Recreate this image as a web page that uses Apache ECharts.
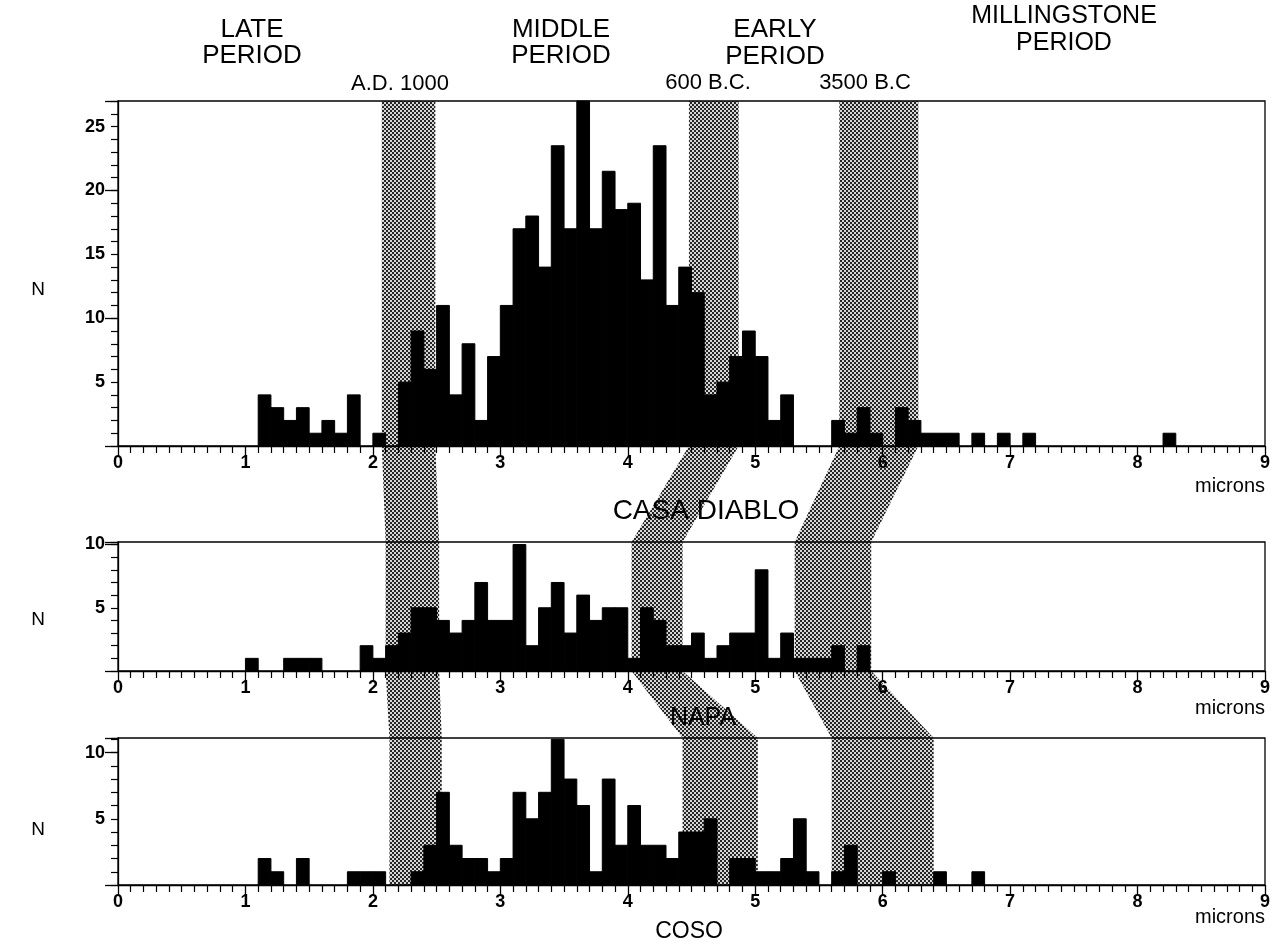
<!DOCTYPE html>
<html>
<head>
<meta charset="utf-8">
<script src="https://cdn.jsdelivr.net/npm/echarts@6/dist/echarts.min.js"></script>
<style>
html,body{margin:0;padding:0;background:#fff;}
#c{width:1286px;height:945px;}
</style>
</head>
<body>
<div id="c"></div>
<script>
// ---------- DATA ----------
const BIN = 0.1; // bin width, microns
const xTicks = [0, 1, 2, 3, 4, 5, 6, 7, 8, 9];

// CASA DIABLO (top panel): bin start (microns) and count N
const casaBins   = [1.1,1.2,1.3,1.4,1.5,1.6,1.7,1.8,2.0,
                    2.2,2.3,2.4,2.5,2.6,2.7,2.8,2.9,3.0,3.1,3.2,3.3,3.4,3.5,3.6,3.7,3.8,3.9,4.0,
                    4.1,4.2,4.3,4.4,4.5,4.6,4.7,4.8,4.9,5.0,5.1,5.2,
                    5.6,5.7,5.8,5.9,6.1,6.2,6.3,6.4,6.5,6.7,6.9,7.1,8.2];
const casaCounts = [4,3,2,3,1,2,1,4,1,
                    5,9,6,11,4,8,2,7,11,17,18,14,23.5,17,27,17,21.5,18.5,19,
                    13,23.5,11,14,12,4,5,7,9,7,2,4,
                    2,1,3,1,3,2,1,1,1,1,1,1,1];

// NAPA (middle panel)
const napaBins   = [1.0,1.3,1.4,1.5,
                    1.9,2.0,2.1,2.2,2.3,2.4,2.5,2.6,2.7,2.8,2.9,3.0,3.1,3.2,3.3,3.4,3.5,3.6,3.7,
                    3.8,3.9,4.0,4.1,4.2,4.3,4.4,4.5,4.6,4.7,4.8,4.9,5.0,5.1,5.2,5.3,5.4,5.5,5.6,
                    5.8];
const napaCounts = [1,1,1,1,
                    2,1,2,3,5,5,4,3,4,7,4,4,10,2,5,7,3,6,4,
                    5,5,1,5,4,2,2,3,1,2,3,3,8,1,3,1,1,1,2,
                    2];

// COSO (bottom panel)
const cosoBins   = [1.1,1.2,1.4,1.8,1.9,2.0,
                    2.3,2.4,2.5,2.6,2.7,2.8,2.9,3.0,3.1,3.2,3.3,3.4,3.5,3.6,3.7,3.8,3.9,4.0,
                    4.1,4.2,4.3,4.4,4.5,4.6,
                    4.8,4.9,5.0,5.1,5.2,5.3,5.4,
                    5.6,5.7,6.0,6.4,6.7];
const cosoCounts = [2,1,2,1,1,1,
                    1,3,7,3,2,2,1,2,7,5,7,11,8,6,1,8,3,6,
                    3,3,2,4,4,5,
                    2,2,1,1,2,5,1,
                    1,3,1,1,1];

const yMaxes = [27, 10.2, 11.1];          // top of each panel's N axis
const siteNames = ['CASA DIABLO', 'NAPA', 'COSO'];
const periodNames = ['LATE\nPERIOD', 'MIDDLE\nPERIOD', 'EARLY\nPERIOD', 'MILLINGSTONE\nPERIOD'];
const dateNames = ['A.D. 1000', '600 B.C.', '3500 B.C'];

// Shaded date bands: [left, right] edges in microns for each panel (top, middle, bottom)
const bandAD1000 = [[2.07, 2.49], [2.10, 2.52], [2.13, 2.54]];
const band600BC  = [[4.48, 4.87], [4.03, 4.43], [4.43, 5.02]];
const band3500BC = [[5.66, 6.28], [5.31, 5.91], [5.60, 6.40]];

// ---------- CHART ----------
const FONT = '"Liberation Sans", Arial, Helvetica, sans-serif';
const chart = echarts.init(document.getElementById('c'), null, {renderer: 'canvas'});

const grids = [
  {left: 118, right: 21, top: 101, height: 345},
  {left: 118, right: 21, top: 542, height: 129},
  {left: 118, right: 21, top: 738, height: 147}
].map(g => Object.assign(g, {show: true, borderColor: '#000', borderWidth: 1.3, backgroundColor: 'transparent', z: 4}));

function xAxisFor(i) {
  return {
    gridIndex: i, type: 'value', min: xTicks[0], max: xTicks[xTicks.length - 1], interval: 1,
    axisLine: {show: true, onZero: false, lineStyle: {color: '#000', width: 1.3}},
    axisTick: {show: true, length: 10, lineStyle: {color: '#000', width: 1.3}},
    minorTick: {show: true, splitNumber: 10, length: 7, lineStyle: {color: '#000', width: 1.2}},
    axisLabel: {color: '#000', fontSize: 18, fontWeight: 'bold', fontFamily: FONT, margin: 8},
    splitLine: {show: false}, minorSplitLine: {show: false}, z: 5
  };
}
function yAxisFor(i) {
  return {
    gridIndex: i, type: 'value', min: 0, max: yMaxes[i], interval: 1,
    axisLine: {show: true, onZero: false, lineStyle: {color: '#000', width: 1.3}},
    axisTick: {show: true, length: 7, lineStyle: {color: '#000', width: 1.2}},
    axisLabel: {color: '#000', fontSize: 18, fontWeight: 'bold', fontFamily: FONT, margin: 13,
      formatter: v => (v > 0 && Math.abs(v % 5) < 1e-9) ? String(v) : ''},
    splitLine: {show: false}, z: 5
  };
}
function yLongTicksFor(i) {
  return {
    gridIndex: i, type: 'value', min: 0, max: yMaxes[i], interval: 10, position: 'left',
    axisLine: {show: false},
    axisTick: {show: true, length: 13, lineStyle: {color: '#000', width: 1.3}},
    axisLabel: {show: false}, splitLine: {show: false}, z: 5
  };
}

function histSeries(i, bins, counts) {
  return {
    type: 'custom', xAxisIndex: i, yAxisIndex: i, z: 3,
    data: bins.map((b, k) => [b, counts[k]]),
    encode: {x: 0, y: 1},
    renderItem: function (params, api) {
      const x0 = api.value(0), v = api.value(1);
      const p0 = api.coord([x0, v]);
      const p1 = api.coord([x0 + BIN, 0]);
      return {type: 'rect', shape: {x: p0[0], y: p0[1], width: p1[0] - p0[0], height: p1[1] - p0[1]},
              style: {fill: '#000', stroke: '#000', lineWidth: 1}};
    },
    silent: true
  };
}

chart.setOption({
  animation: false,
  backgroundColor: '#fff',
  grid: grids,
  xAxis: [xAxisFor(0), xAxisFor(1), xAxisFor(2)],
  yAxis: [yAxisFor(0), yAxisFor(1), yAxisFor(2), yLongTicksFor(0), yLongTicksFor(1), yLongTicksFor(2)],
  series: [
    histSeries(0, casaBins, casaCounts),
    histSeries(1, napaBins, napaCounts),
    histSeries(2, cosoBins, cosoCounts)
  ]
});

// checker pattern like the screened band in the original
function makePattern() {
  const c = document.createElement('canvas');
  c.width = 4; c.height = 4;
  const g = c.getContext('2d');
  g.fillStyle = '#d6d6d6'; g.fillRect(0, 0, 4, 4);
  g.fillStyle = '#262626'; g.fillRect(0, 0, 2, 2); g.fillRect(2, 2, 2, 2);
  return c;
}
const pattern = {image: makePattern(), repeat: 'repeat'};

function px(i, x, y) { return chart.convertToPixel({xAxisIndex: i, yAxisIndex: i}, [x, y]); }
function bandPolygon(edges) {
  const left = [], right = [];
  for (let i = 0; i < edges.length; i++) {
    left.push(px(i, edges[i][0], yMaxes[i]));
    left.push(px(i, edges[i][0], 0));
  }
  for (let i = edges.length - 1; i >= 0; i--) {
    right.push(px(i, edges[i][1], 0));
    right.push(px(i, edges[i][1], yMaxes[i]));
  }
  return {type: 'polygon', z: 1, silent: true, shape: {points: left.concat(right)},
          style: {fill: pattern, stroke: null}};
}

function txt(text, x, y, size, align, lh) {
  return {type: 'text', z: 20, silent: true,
    style: {text: text, x: x, y: y, fill: '#000', font: size + 'px ' + FONT,
      align: align || 'center', verticalAlign: 'middle',
      textAlign: align || 'center', textVerticalAlign: 'middle', lineHeight: lh || size}};
}

const gfx = [
  bandPolygon(bandAD1000), bandPolygon(band600BC), bandPolygon(band3500BC),
  txt(periodNames[0], 252, 43, 26, 'center', 26),
  txt(periodNames[1], 561, 43, 26, 'center', 26),
  txt(periodNames[2], 775, 43, 26, 'center', 27),
  txt(periodNames[3], 1064, 30, 25, 'center', 27),
  txt(dateNames[0], 400, 84, 22),
  txt(dateNames[1], 708, 83, 22),
  txt(dateNames[2], 865, 83, 22),
  txt('N', 38, 290, 19), txt('N', 38, 620, 19), txt('N', 38, 830, 19),
  txt('microns', 1265, 486, 20, 'right'),
  txt('microns', 1265, 708, 20, 'right'),
  txt('microns', 1265, 917, 20, 'right'),
  txt(siteNames[0], 706, 511, 28),
  txt(siteNames[1], 703, 718, 25),
  txt(siteNames[2], 689, 932, 23)
];
chart.setOption({graphic: {elements: gfx}});
</script>
</body>
</html>
